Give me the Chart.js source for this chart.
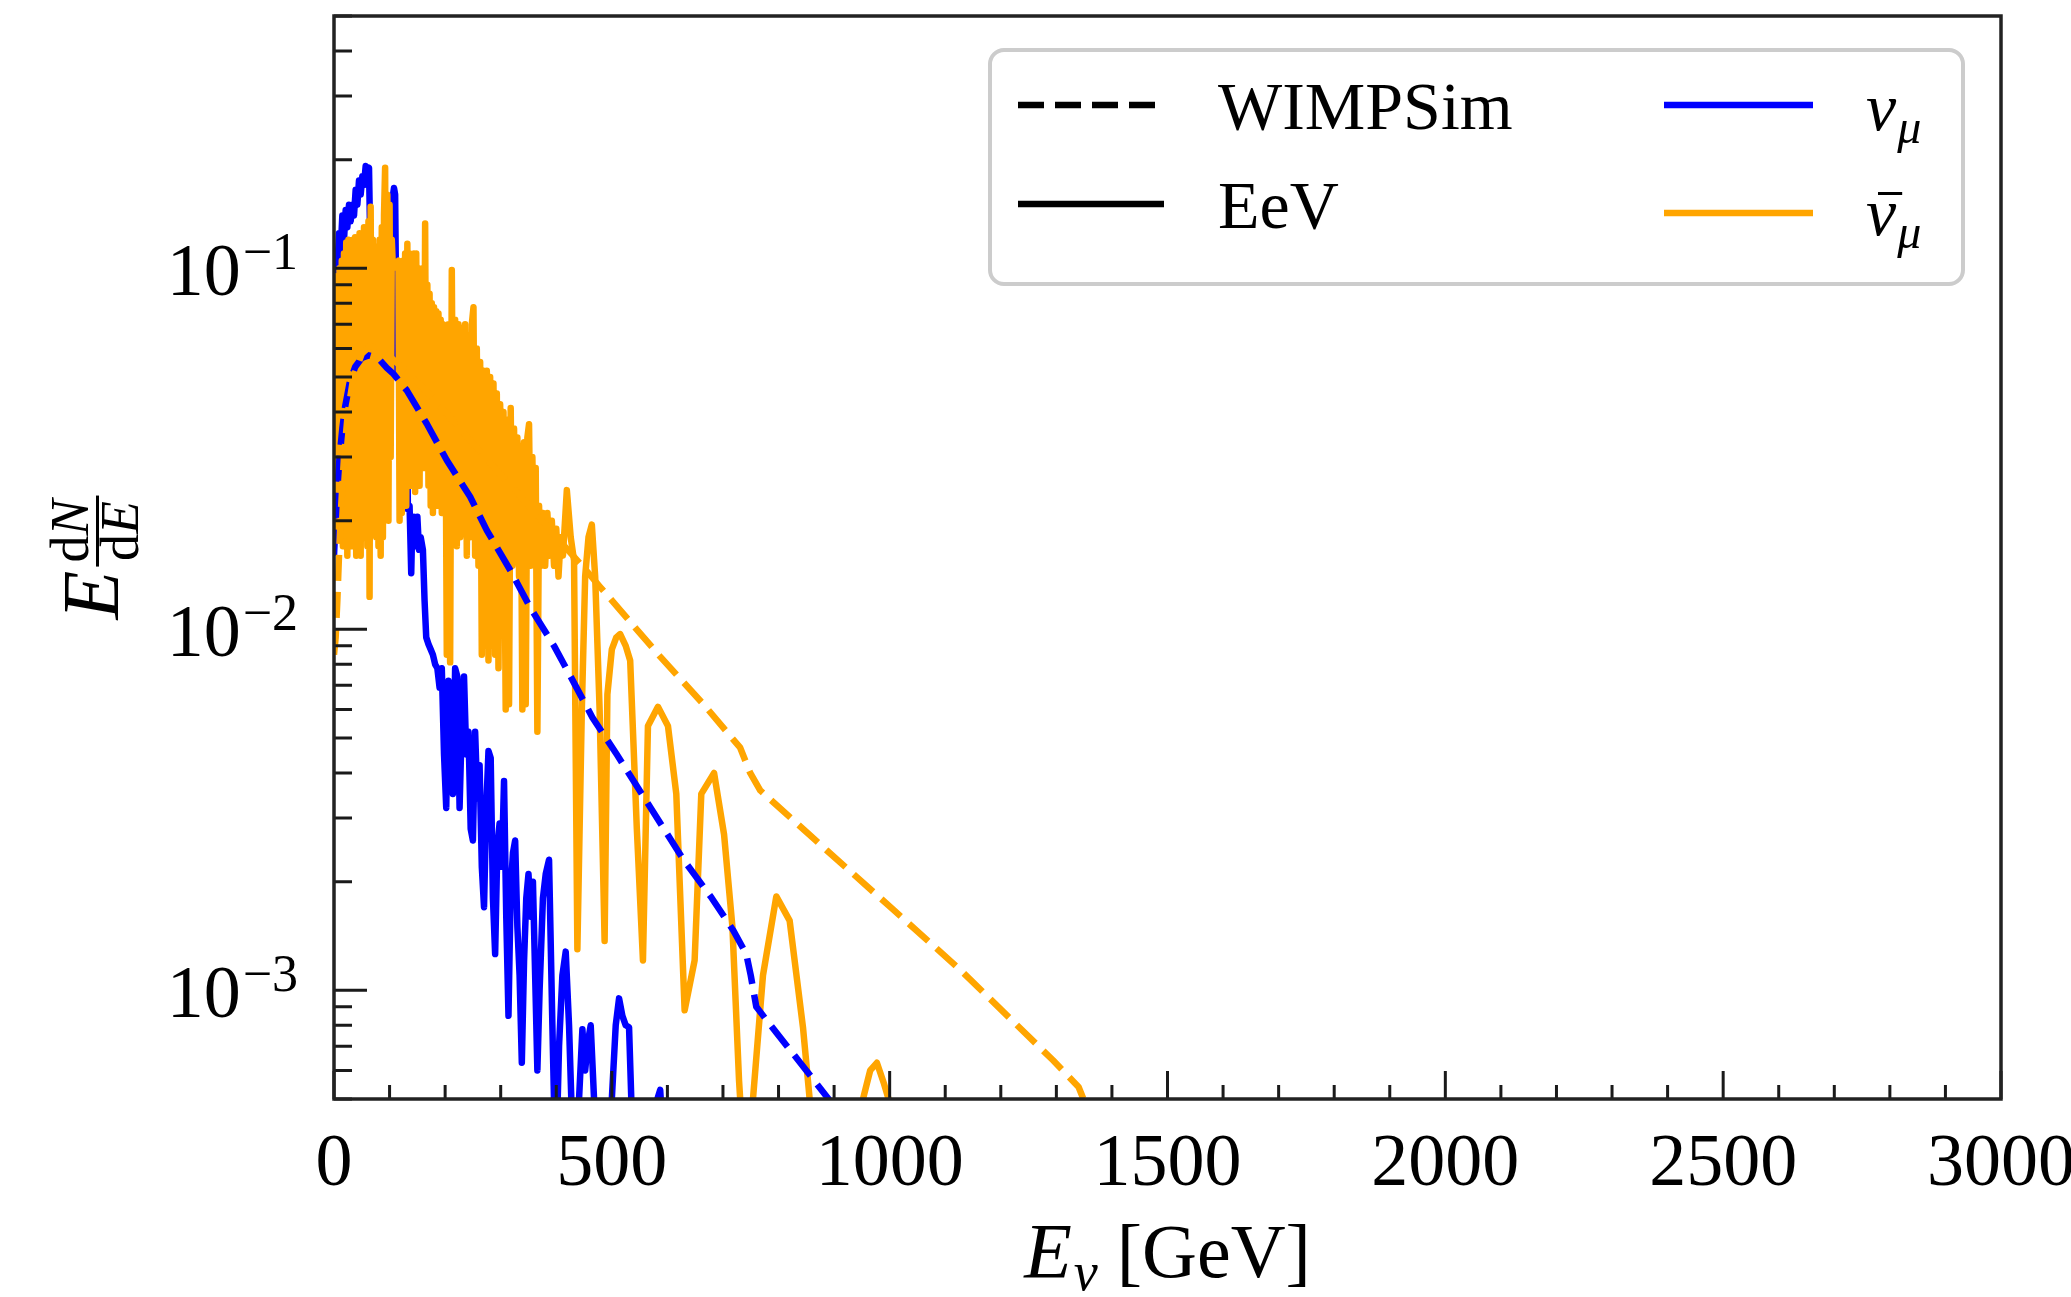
<!DOCTYPE html>
<html>
<head>
<meta charset="utf-8">
<script src="https://cdn.jsdelivr.net/npm/chart.js@4.4.1/dist/chart.umd.min.js"></script>
<style>
  html, body { margin: 0; padding: 0; background: #fff; }
  #wrap { width: 2071px; height: 1297px; }
</style>
</head>
<body>
<div id="wrap"><canvas id="chart" width="2071" height="1297"></canvas></div>
<script>
const SERIF = "'Liberation Serif', 'Times New Roman', serif";

/* ================= DATA ================= */
const xTicks = [0, 500, 1000, 1500, 2000, 2500, 3000];
const yDecades = [1e-3, 1e-2, 1e-1];

// nu_mu, WIMPSim (dashed blue)
const numuWimpE = [0, 5, 10, 15, 20, 28, 38, 50, 62, 75, 83, 95, 107, 131, 167, 203, 245, 275, 317, 353,
  396, 430, 465, 509, 570, 629, 680, 718, 742, 750, 760, 797, 850, 890, 905];
const numuWimpY = [0.016, 0.0233, 0.03, 0.036, 0.0413, 0.048, 0.0533, 0.0565, 0.0574, 0.0566, 0.0556, 0.053, 0.051,
  0.0459, 0.0371, 0.0294, 0.0233, 0.0188, 0.0146, 0.0115, 0.009, 0.0072, 0.0057, 0.0045, 0.0032, 0.0023, 0.0018,
  0.00147, 0.00126, 0.0011, 0.0009, 0.00076, 0.0006, 0.0005, 0.00046];

// anti nu_mu, WIMPSim (dashed orange)
const numubarWimpE = [0, 3, 6, 9, 13, 18, 25, 35, 50, 65, 80, 100, 130, 170, 220, 280, 340, 400, 450, 479,
  515, 587, 665, 731, 749, 767, 887, 1007, 1127, 1294, 1340, 1358];
const numubarWimpY = [0.0085, 0.0095, 0.012, 0.016, 0.022, 0.03, 0.04, 0.05, 0.058, 0.061, 0.06, 0.057, 0.052,
  0.045, 0.037, 0.029, 0.023, 0.018, 0.0148, 0.0131, 0.0113, 0.0084, 0.0062, 0.0047, 0.004, 0.00358, 0.00244,
  0.00167, 0.00114, 0.00064, 0.00054, 0.00046];

// nu_mu, EeV (solid blue)
const numuEevE = [0, 3, 6, 9, 12, 15, 18, 21, 24, 27, 30, 33, 36, 39, 42, 45, 48, 51, 54, 57, 60, 63, 66, 70, 74,
  78, 82, 86, 90, 94, 98, 102, 105, 108, 110, 113, 117, 122, 127, 131, 133, 136, 139, 141, 144, 147, 150, 153,
  156, 160, 163, 166, 170, 174, 178, 182, 186, 190, 194, 198, 202, 206, 210, 214, 218, 222, 226, 230, 234, 238,
  242, 246, 250, 254, 258, 262, 266, 270, 274, 278, 282, 286, 290, 294, 298, 302, 306, 310, 314, 318, 322, 326,
  330, 334, 338, 342, 346, 350, 354, 358, 362, 366, 370, 376, 381, 387, 393, 399, 405, 411, 417, 423, 429, 435,
  441, 447, 452, 457, 462, 468, 474, 480, 486, 493, 500, 507, 513, 519, 525, 531, 537, 545, 560, 575, 582, 587,
  592, 600, 615];
const numuEevY = [0.095, 0.11, 0.1, 0.125, 0.112, 0.14, 0.12, 0.145, 0.13, 0.15, 0.135, 0.15, 0.14, 0.165, 0.15,
  0.175, 0.16, 0.18, 0.17, 0.192, 0.185, 0.19, 0.1, 0.11, 0.09, 0.1, 0.08, 0.1, 0.085, 0.09, 0.1, 0.12, 0.155,
  0.167, 0.16, 0.053, 0.05, 0.045, 0.042, 0.039, 0.0215, 0.022, 0.0143, 0.02, 0.0205, 0.017, 0.0205, 0.0166,
  0.018, 0.0166, 0.012, 0.0095, 0.0091, 0.0088, 0.0085, 0.008, 0.0078, 0.0069, 0.0078, 0.0045, 0.0032, 0.0072,
  0.0065, 0.0035, 0.0078, 0.0074, 0.0032, 0.0055, 0.0074, 0.0045, 0.0052, 0.0028, 0.0026, 0.0052, 0.0034,
  0.0042, 0.0022, 0.0017, 0.0032, 0.0046, 0.0044, 0.0018, 0.00126, 0.0025, 0.0029, 0.0022, 0.0038, 0.0016,
  0.00085, 0.0019, 0.0024, 0.0026, 0.0015, 0.0011, 0.00063, 0.0012, 0.0018, 0.0021, 0.0016, 0.002, 0.0011,
  0.0006, 0.001, 0.0018, 0.0021, 0.0023, 0.0008, 0.0003, 0.0007, 0.0011, 0.00128, 0.0008, 0.0004, 0.0002,
  0.0005, 0.00078, 0.0006, 0.00072, 0.0008, 0.0005, 0.0003, 0.0002, 0.0002, 0.0003, 0.0005, 0.0008, 0.00095,
  0.00085, 0.0008, 0.00079, 0.0004, 0.0002, 0.0001, 0.0003, 0.0005, 0.00053, 0.0004, 0.0002, 0.0001];

// anti nu_mu, EeV (solid orange)
const numubarEevE = [0, 2, 4, 6, 8, 10, 12, 14, 16, 18, 20, 22, 24, 26, 28, 30, 32, 34, 36, 38, 40, 42, 44, 46,
  48, 50, 52, 54, 56, 58, 60, 62, 64, 66, 68, 70, 72, 74, 76, 78, 80, 82, 84, 86, 88, 90, 92, 94, 96, 98, 100,
  102, 104, 106, 116, 118, 120, 122, 124, 126, 128, 130, 132, 134, 136, 138, 140, 142, 144, 146, 148, 150, 152,
  154, 156, 158, 160, 162, 164, 166, 168, 170, 172, 174, 176, 178, 180, 182, 184, 186, 188, 190, 192, 194, 196,
  198, 200, 203, 206, 209, 212, 215, 218, 221, 224, 227, 230, 233, 236, 239, 242, 245, 248, 251, 254, 257, 260,
  263, 266, 269, 272, 275, 278, 281, 284, 287, 290, 293, 296, 299, 302, 305, 309, 312, 315, 318, 321, 324, 327,
  330, 333, 336, 339, 342, 345, 348, 351, 354, 357, 360, 363, 366, 369, 372, 376, 380, 384, 388, 392, 396, 400,
  404, 408, 412, 419, 426, 432, 438, 446, 452, 458, 464, 470, 478, 487, 492, 500, 508, 515, 525, 533, 545, 556,
  565, 583, 601, 616, 631, 649, 661, 684, 702, 717, 729, 740, 754, 772, 796, 820, 844, 856, 880, 920, 952, 965,
  977, 990, 998, 1010];
const numubarEevY = [0.03, 0.095, 0.019, 0.09, 0.018, 0.1, 0.02, 0.105, 0.017, 0.11, 0.019, 0.118, 0.016, 0.12,
  0.02, 0.115, 0.017, 0.12, 0.018, 0.122, 0.016, 0.12, 0.02, 0.125, 0.016, 0.118, 0.018, 0.13, 0.02, 0.12, 0.017,
  0.135, 0.0123, 0.148, 0.025, 0.12, 0.02, 0.1, 0.018, 0.115, 0.017, 0.12, 0.016, 0.13, 0.018, 0.14, 0.19, 0.03,
  0.16, 0.02, 0.15, 0.03, 0.12, 0.1, 0.105, 0.02, 0.098, 0.021, 0.105, 0.025, 0.11, 0.022, 0.117, 0.03, 0.11,
  0.025, 0.105, 0.03, 0.11, 0.024, 0.11, 0.03, 0.1, 0.025, 0.095, 0.03, 0.1, 0.028, 0.133, 0.03, 0.09, 0.025,
  0.085, 0.022, 0.08, 0.021, 0.078, 0.025, 0.076, 0.022, 0.075, 0.024, 0.072, 0.021, 0.07, 0.021, 0.065, 0.0085,
  0.07, 0.0081, 0.099, 0.02, 0.072, 0.017, 0.07, 0.018, 0.068, 0.02, 0.07, 0.016, 0.065, 0.018, 0.07, 0.078,
  0.016, 0.06, 0.015, 0.055, 0.0085, 0.052, 0.009, 0.052, 0.0082, 0.05, 0.009, 0.048, 0.0085, 0.045, 0.0078,
  0.042, 0.015, 0.04, 0.006, 0.038, 0.0062, 0.041, 0.015, 0.036, 0.016, 0.034, 0.014, 0.032, 0.006, 0.033,
  0.0062, 0.034, 0.037, 0.015, 0.03, 0.016, 0.028, 0.0052, 0.022, 0.015, 0.021, 0.015, 0.021, 0.016, 0.02,
  0.015, 0.019, 0.014, 0.018, 0.016, 0.0243, 0.018, 0.0155, 0.0013, 0.006, 0.014, 0.018, 0.0195, 0.014, 0.006,
  0.00137, 0.0066, 0.0088, 0.0095, 0.0097, 0.009, 0.0082, 0.0028, 0.00121, 0.0054, 0.0061, 0.0054, 0.0035,
  0.00088, 0.00121, 0.0035, 0.004, 0.0027, 0.0015, 0.00056, 0.0003, 0.0005, 0.0011, 0.00182, 0.00156, 0.00079,
  0.0005, 0.0002, 0.0002, 0.0005, 0.0006, 0.00063, 0.00055, 0.0005, 0.0002];

const legendStyles = ['WIMPSim', 'EeV'];
const legendFlavours = ['\u03BD', '\u03BD'];   // second one gets a bar drawn over it

const BLUE = '#0000ff';
const ORANGE = '#ffa500';
const LW = 6.5;

/* ================= HELPERS ================= */
function toPoints(xs, ys) {
  return xs.map((v, i) => ({ x: v, y: ys[i] }));
}

function lineSet(label, xs, ys, color, dashed, order) {
  return {
    label,
    data: toPoints(xs, ys),
    borderColor: color,
    borderWidth: LW,
    borderDash: dashed ? [26, 11] : [],
    borderCapStyle: 'butt',
    borderJoinStyle: 'round',
    pointRadius: 0,
    tension: 0,
    fill: false,
    clip: 0,
    order
  };
}

/* ================= DECORATION ================= */
const decor = {
  id: 'decor',
  afterDraw(chart) {
    const { ctx, chartArea: a } = chart;
    const x = chart.scales.x, y = chart.scales.y;
    ctx.save();

    // inward ticks
    ctx.strokeStyle = '#1a1a1a';
    ctx.lineWidth = 3;
    ctx.setLineDash([]);
    ctx.beginPath();
    for (let v = 0; v <= 3000; v += 100) {
      const px = x.getPixelForValue(v);
      const len = xTicks.includes(v) ? 28 : 14;
      ctx.moveTo(px, a.bottom);
      ctx.lineTo(px, a.bottom - len);
    }
    [1e-4, ...yDecades].forEach(d => {
      for (let k = 1; k <= 9; k++) {
        const v = k * d;
        if (v < 5e-4 - 1e-9 || v > 0.5 + 1e-9) continue;
        const py = y.getPixelForValue(v);
        const len = k === 1 ? 33 : 18;
        ctx.moveTo(a.left, py);
        ctx.lineTo(a.left + len, py);
      }
    });
    ctx.stroke();

    // frame
    ctx.strokeStyle = '#222';
    ctx.lineWidth = 3.5;
    ctx.strokeRect(a.left, a.top, a.right - a.left, a.bottom - a.top);

    // y tick labels 10^n
    ctx.fillStyle = '#000';
    ctx.textBaseline = 'alphabetic';
    ctx.textAlign = 'left';
    yDecades.forEach(d => {
      const py = y.getPixelForValue(d);
      const exp = '\u2212' + Math.round(-Math.log10(d));
      ctx.font = `52px ${SERIF}`;
      const ws = ctx.measureText(exp).width;
      ctx.font = `74px ${SERIF}`;
      const wm = ctx.measureText('10').width;
      const right = 298;
      ctx.fillText('10', right - ws - wm - 2, py + 27);
      ctx.font = `52px ${SERIF}`;
      ctx.fillText(exp, right - ws, py + 1);
    });

    // x title: E_nu [GeV]
    {
      ctx.font = `italic 78px ${SERIF}`;
      const wE = ctx.measureText('E').width;
      ctx.font = `italic 54px ${SERIF}`;
      const wNu = ctx.measureText('\u03BD').width;
      ctx.font = `76px ${SERIF}`;
      const wG = ctx.measureText(' [GeV]').width;
      const total = wE + 2 + wNu + wG;
      let cx = (a.left + a.right) / 2 - total / 2;
      const base = 1277;
      ctx.font = `italic 78px ${SERIF}`;
      ctx.fillText('E', cx, base);
      cx += wE + 2;
      ctx.font = `italic 54px ${SERIF}`;
      ctx.fillText('\u03BD', cx, base + 13);
      cx += wNu;
      ctx.font = `76px ${SERIF}`;
      ctx.fillText(' [GeV]', cx, base);
    }

    // y title: E dN/dE (rotated)
    {
      ctx.save();
      ctx.translate(118, (a.top + a.bottom) / 2);
      ctx.rotate(-Math.PI / 2);
      ctx.font = `italic 80px ${SERIF}`;
      const wE = ctx.measureText('E').width;
      ctx.font = `54px ${SERIF}`;
      const wd = ctx.measureText('d').width;
      ctx.font = `italic 54px ${SERIF}`;
      const wN = ctx.measureText('N').width;
      const wE2 = ctx.measureText('E').width;
      const fracW = Math.max(wd + wN, wd + wE2) + 8;
      const total = wE + 4 + fracW;
      let u = -total / 2;
      ctx.font = `italic 80px ${SERIF}`;
      ctx.fillText('E', u, 0);
      u += wE + 4;
      ctx.fillRect(u, -22, fracW, 3);
      const numX = u + (fracW - (wd + wN)) / 2;
      ctx.font = `54px ${SERIF}`;
      ctx.fillText('d', numX, -30);
      ctx.font = `italic 54px ${SERIF}`;
      ctx.fillText('N', numX + wd, -30);
      const denX = u + (fracW - (wd + wE2)) / 2;
      ctx.font = `54px ${SERIF}`;
      ctx.fillText('d', denX, 20);
      ctx.font = `italic 54px ${SERIF}`;
      ctx.fillText('E', denX + wd, 20);
      ctx.restore();
    }

    // legend
    {
      ctx.beginPath();
      ctx.roundRect(990, 50, 973, 234, 14);
      ctx.fillStyle = 'rgba(255,255,255,0.8)';
      ctx.fill();
      ctx.strokeStyle = '#cccccc';
      ctx.lineWidth = 4;
      ctx.stroke();

      const rowsA = [105, 204];
      ctx.lineWidth = LW;
      ctx.lineCap = 'butt';
      rowsA.forEach((ly, i) => {
        ctx.strokeStyle = '#000';
        ctx.setLineDash(i === 0 ? [26, 11] : []);
        ctx.beginPath();
        ctx.moveTo(1018, ly);
        ctx.lineTo(1164, ly);
        ctx.stroke();
        ctx.setLineDash([]);
        ctx.fillStyle = '#000';
        ctx.font = `68px ${SERIF}`;
        ctx.fillText(legendStyles[i], 1218, ly + 24);
      });

      const rowsB = [105, 213];
      const cols = [BLUE, ORANGE];
      rowsB.forEach((ly, i) => {
        ctx.strokeStyle = cols[i];
        ctx.lineWidth = LW;
        ctx.beginPath();
        ctx.moveTo(1664, ly);
        ctx.lineTo(1813, ly);
        ctx.stroke();
        ctx.fillStyle = '#000';
        ctx.font = `italic 68px ${SERIF}`;
        const wNu = ctx.measureText('\u03BD').width;
        const base = ly + (i === 0 ? 25 : 22);
        const tx = 1866;
        ctx.fillText(legendFlavours[i], tx, base);
        if (i === 1) {
          // bar over nu
          ctx.fillRect(tx + 12, base - 43, wNu - 6, 3);
        }
        ctx.font = `italic 48px ${SERIF}`;
        ctx.fillText('\u03BC', tx + wNu + 1, base + 13);
      });
    }
    ctx.restore();
  }
};

/* ================= CHART ================= */
new Chart(document.getElementById('chart'), {
  type: 'line',
  data: {
    datasets: [
      lineSet('\u03BD\u03BC EeV', numuEevE, numuEevY, BLUE, false, 4),
      lineSet('anti-\u03BD\u03BC EeV', numubarEevE, numubarEevY, ORANGE, false, 3),
      lineSet('\u03BD\u03BC WIMPSim', numuWimpE, numuWimpY, BLUE, true, 2),
      lineSet('anti-\u03BD\u03BC WIMPSim', numubarWimpE, numubarWimpY, ORANGE, true, 1)
    ]
  },
  options: {
    responsive: false,
    devicePixelRatio: 1,
    animation: false,
    layout: { padding: { top: 16, right: 70, left: 0, bottom: 0 } },
    plugins: { legend: { display: false }, tooltip: { enabled: false } },
    scales: {
      x: {
        type: 'linear',
        min: 0,
        max: 3000,
        grid: { display: false, drawTicks: false },
        border: { display: false },
        ticks: {
          stepSize: 500,
          color: '#000',
          font: { family: SERIF, size: 74 },
          padding: 22,
          maxRotation: 0,
          autoSkip: false,
          callback: v => String(v)
        },
        afterFit: s => { s.height = 198; s.paddingLeft = 0; s.paddingRight = 0; }
      },
      y: {
        type: 'logarithmic',
        min: 5e-4,
        max: 0.5,
        grid: { display: false, drawTicks: false },
        border: { display: false },
        ticks: { display: false },
        afterFit: s => { s.width = 334; s.paddingTop = 0; s.paddingBottom = 0; }
      }
    }
  },
  plugins: [decor]
});
</script>
</body>
</html>
